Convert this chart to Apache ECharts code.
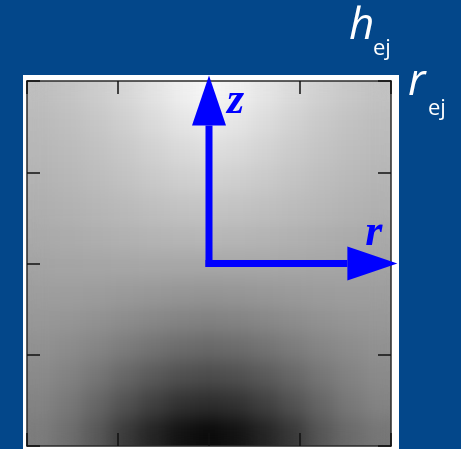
<!DOCTYPE html>
<html>
<head>
    <meta charset="UTF-8">
    <title>h_ej r_ej field</title>
    <script src="https://cdn.jsdelivr.net/npm/echarts@6/dist/echarts.min.js"></script>
    <style>
        body { margin: 0; background: #03478a; width: 461px; height: 449px; overflow: hidden; position: relative; }
        #frame { position: absolute; left: 23px; top: 75px; width: 376px; height: 380px; background: #fff; }
        #clip { position: absolute; left: 27px; top: 81px; width: 364px; height: 365px; overflow: hidden; }
        #field { width: 364px; height: 365px; filter: url(#soft); }
        #main { position: absolute; left: 0; top: 0; width: 461px; height: 449px; }
    </style>
</head>
<body>
<svg width="0" height="0" style="position:absolute">
    <filter id="soft" color-interpolation-filters="sRGB">
        <feGaussianBlur stdDeviation="9"/>
        <feComponentTransfer>
            <feFuncA type="table" tableValues="1 1"/>
        </feComponentTransfer>
    </filter>
</svg>
<div id="frame"></div>
<div id="clip"><div id="field"></div></div>
<div id="main"></div>
<script type="text/javascript">

    // brightness of the map (rows top -> bottom, 0 = black, 255 = white)
    var fieldRows = [
        [190, 196, 204, 214, 226, 238, 246, 240, 229, 218, 208, 200, 194],
        [186, 191, 198, 207, 218, 228, 234, 229, 220, 210, 201, 194, 189],
        [183, 187, 193, 200, 209, 217, 222, 218, 211, 203, 196, 190, 186],
        [179, 183, 188, 194, 201, 207, 210, 207, 202, 196, 190, 185, 181],
        [175, 178, 182, 186, 191, 195, 197, 195, 192, 188, 184, 180, 177],
        [170, 172, 175, 178, 181, 183, 184, 183, 181, 178, 175, 172, 170],
        [164, 165, 166, 167, 168, 168, 168, 168, 168, 167, 166, 165, 164],
        [158, 158, 157, 155, 153, 151, 150, 151, 153, 155, 157, 158, 158],
        [152, 150, 146, 141, 136, 132, 130, 132, 136, 141, 146, 150, 152],
        [145, 140, 133, 124, 115, 108, 105, 108, 115, 124, 133, 140, 145],
        [138, 130, 118, 103, 90, 80, 76, 80, 90, 103, 118, 130, 138],
        [131, 120, 102, 82, 64, 50, 45, 50, 64, 82, 102, 120, 131],
        [124, 110, 88, 58, 36, 18, 10, 18, 36, 56, 86, 106, 118]
    ];

    // axes arrows: [x0, y0, x1, y1] in plot units
    var arrowStart = [2, 2];
    var arrowEnds = [[2, 4.06], [4.07, 2]];
    var arrowNames = ['z', 'r'];
    var axisTicks = [0, 1, 2, 3, 4];

    var cols = [], rows = [], cells = [];
    for (var c = 0; c < fieldRows[0].length; c++) cols.push(c);
    for (var r = 0; r < fieldRows.length; r++) rows.push(r);
    fieldRows.forEach(function (row, ri) {
        row.forEach(function (v, ci) {
            cells.push([ci, ri, v]);
        });
    });

    var fieldChart = echarts.init(document.getElementById('field'));
    fieldChart.setOption({
        animation: false,
        grid: {left: 0, right: 0, top: 0, bottom: 0},
        xAxis: {type: 'category', data: cols, show: false},
        yAxis: {type: 'category', data: rows, show: false, inverse: true},
        visualMap: {show: false, min: 0, max: 255, inRange: {color: ['#000000', '#ffffff']}},
        series: [{type: 'heatmap', data: cells, itemStyle: {borderWidth: 0}}]
    });

    // label position relative to the arrow tip
    var labelOffset = [[18, 26], [-32, -30]];

    var myChart = echarts.init(document.getElementById('main'));

    var axisStyle = {
        type: 'value', min: axisTicks[0], max: axisTicks[axisTicks.length - 1], interval: 1,
        axisLine: {show: true, onZero: false, lineStyle: {color: '#2a2a2a', width: 1.5}},
        axisTick: {show: true, inside: true, length: 13, lineStyle: {color: '#111', width: 1.5}},
        axisLabel: {show: false},
        splitLine: {show: false}
    };

    myChart.setOption({
        animation: false,
        backgroundColor: 'transparent',
        grid: {left: 27, top: 81, width: 364, height: 365},
        xAxis: [
            Object.assign({position: 'bottom'}, axisStyle),
            Object.assign({position: 'top'}, axisStyle)
        ],
        yAxis: [
            Object.assign({position: 'left'}, axisStyle),
            Object.assign({position: 'right'}, axisStyle)
        ],
        graphic: [
            {type: 'text', left: 349, top: 4, style: {text: 'h', fill: '#fff', font: 'italic 44px "Open Sans"'}},
            {type: 'text', left: 373, top: 38, style: {text: 'ej', fill: '#fff', font: '22px "Open Sans"'}},
            {type: 'text', left: 408, top: 60, style: {text: 'r', fill: '#fff', font: 'italic 44px "Open Sans"'}},
            {type: 'text', left: 428, top: 98, style: {text: 'ej', fill: '#fff', font: '22px "Open Sans"'}}
        ],
        series: [{
            type: 'custom',
            clip: false,
            xAxisIndex: 0,
            yAxisIndex: 0,
            encode: {x: [0, 2], y: [1, 3]},
            data: arrowEnds.map(function (e) {
                return [arrowStart[0], arrowStart[1], e[0], e[1]];
            }),
            renderItem: function (params, api) {
                var p0 = api.coord([api.value(0), api.value(1)]);
                var p1 = api.coord([api.value(2), api.value(3)]);
                var dx = p1[0] - p0[0], dy = p1[1] - p0[1];
                var len = Math.sqrt(dx * dx + dy * dy);
                var ux = dx / len, uy = dy / len, nx = -uy, ny = ux;
                var hw = 3.5, headLen = 50, headHw = 17;
                var sx = p0[0] - ux * hw, sy = p0[1] - uy * hw;
                var bx = p1[0] - ux * headLen, by = p1[1] - uy * headLen;
                var off = labelOffset[params.dataIndex];
                return {
                    type: 'group',
                    children: [
                        {
                            type: 'polygon',
                            shape: {points: [[sx + nx * hw, sy + ny * hw], [bx + nx * hw, by + ny * hw],
                                [bx - nx * hw, by - ny * hw], [sx - nx * hw, sy - ny * hw]]},
                            style: {fill: '#0000ff'}
                        },
                        {
                            type: 'polygon',
                            shape: {points: [[bx + nx * headHw, by + ny * headHw], p1, [bx - nx * headHw, by - ny * headHw]]},
                            style: {fill: '#0000ff'}
                        },
                        {
                            type: 'text',
                            x: p1[0] + off[0], y: p1[1] + off[1],
                            style: {
                                text: arrowNames[params.dataIndex], fill: '#0000ff',
                                font: 'italic bold 44px "Liberation Serif"', align: 'left', verticalAlign: 'middle'
                            }
                        }
                    ]
                };
            }
        }]
    });
</script>
</body>
</html>
